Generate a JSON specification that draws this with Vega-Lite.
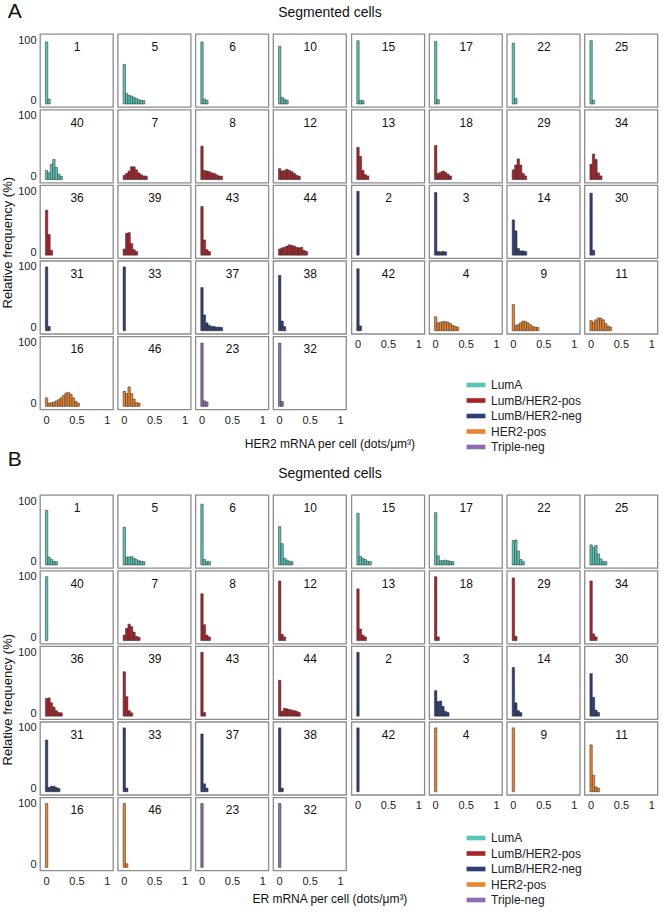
{
"$schema": "https://vega.github.io/schema/vega-lite/v6.json",
"padding": {"left": 1, "top": 1, "right": 4, "bottom": 1},
"background": "white",
"config": {
  "font": "Liberation Sans",
  "view": {"stroke": "#8c8c8c", "strokeWidth": 1.3},
  "axis": {"domain": false, "ticks": false, "grid": false, "labelFont": "Liberation Sans", "labelFontSize": 11, "labelColor": "#222", "labelFlush": false, "labelPadding": 4},
  "title": {"font": "Liberation Sans", "fontWeight": "normal", "color": "#111"},
  "legend": {"labelFont": "Liberation Sans"},
  "header": {"labels": false, "title": null, "labelExpr": "''", "labelFontSize": 1, "labelPadding": 0}
},
"datasets": {
  "meta": [
    {"p":"1","g":"LumA","o":1,"s":"L"},{"p":"5","g":"LumA","o":2,"s":"L"},{"p":"6","g":"LumA","o":3,"s":"L"},{"p":"10","g":"LumA","o":4,"s":"L"},
    {"p":"15","g":"LumA","o":5,"s":"R"},{"p":"17","g":"LumA","o":6,"s":"R"},{"p":"22","g":"LumA","o":7,"s":"R"},{"p":"25","g":"LumA","o":8,"s":"R"},
    {"p":"40","g":"LumA","o":9,"s":"L"},{"p":"7","g":"LumB/HER2-pos","o":10,"s":"L"},{"p":"8","g":"LumB/HER2-pos","o":11,"s":"L"},{"p":"12","g":"LumB/HER2-pos","o":12,"s":"L"},
    {"p":"13","g":"LumB/HER2-pos","o":13,"s":"R"},{"p":"18","g":"LumB/HER2-pos","o":14,"s":"R"},{"p":"29","g":"LumB/HER2-pos","o":15,"s":"R"},{"p":"34","g":"LumB/HER2-pos","o":16,"s":"R"},
    {"p":"36","g":"LumB/HER2-pos","o":17,"s":"L"},{"p":"39","g":"LumB/HER2-pos","o":18,"s":"L"},{"p":"43","g":"LumB/HER2-pos","o":19,"s":"L"},{"p":"44","g":"LumB/HER2-pos","o":20,"s":"L"},
    {"p":"2","g":"LumB/HER2-neg","o":21,"s":"R"},{"p":"3","g":"LumB/HER2-neg","o":22,"s":"R"},{"p":"14","g":"LumB/HER2-neg","o":23,"s":"R"},{"p":"30","g":"LumB/HER2-neg","o":24,"s":"R"},
    {"p":"31","g":"LumB/HER2-neg","o":25,"s":"L"},{"p":"33","g":"LumB/HER2-neg","o":26,"s":"L"},{"p":"37","g":"LumB/HER2-neg","o":27,"s":"L"},{"p":"38","g":"LumB/HER2-neg","o":28,"s":"L"},
    {"p":"42","g":"LumB/HER2-neg","o":29,"s":"R"},{"p":"4","g":"HER2-pos","o":30,"s":"R"},{"p":"9","g":"HER2-pos","o":31,"s":"R"},{"p":"11","g":"HER2-pos","o":32,"s":"R"},
    {"p":"16","g":"HER2-pos","o":33,"s":"L"},{"p":"46","g":"HER2-pos","o":34,"s":"L"},{"p":"23","g":"Triple-neg","o":35,"s":"L"},{"p":"32","g":"Triple-neg","o":36,"s":"L"}
  ],
  "her2": [
    {"p":"1","x":0,"v":97},{"p":"1","x":0.04,"v":3},
    {"p":"5","x":0,"v":60},{"p":"5","x":0.04,"v":12},{"p":"5","x":0.08,"v":9},{"p":"5","x":0.12,"v":8},{"p":"5","x":0.16,"v":6},{"p":"5","x":0.2,"v":4},{"p":"5","x":0.24,"v":2},{"p":"5","x":0.28,"v":1},{"p":"5","x":0.32,"v":0.5},
    {"p":"6","x":0,"v":97},{"p":"6","x":0.04,"v":3},{"p":"6","x":0.08,"v":1},
    {"p":"10","x":0,"v":90},{"p":"10","x":0.04,"v":6},{"p":"10","x":0.08,"v":3},{"p":"10","x":0.12,"v":1},
    {"p":"15","x":0,"v":99},{"p":"15","x":0.04,"v":1},{"p":"15","x":0.08,"v":0.5},
    {"p":"17","x":0,"v":98},{"p":"17","x":0.04,"v":2},
    {"p":"22","x":0,"v":95},{"p":"22","x":0.04,"v":4},
    {"p":"25","x":0,"v":99},{"p":"25","x":0.04,"v":1},
    {"p":"40","x":0,"v":10},{"p":"40","x":0.04,"v":6},{"p":"40","x":0.08,"v":20},{"p":"40","x":0.12,"v":28},{"p":"40","x":0.16,"v":15},{"p":"40","x":0.2,"v":4},{"p":"40","x":0.24,"v":0.5},
    {"p":"7","x":0,"v":2},{"p":"7","x":0.04,"v":5},{"p":"7","x":0.08,"v":9},{"p":"7","x":0.12,"v":16},{"p":"7","x":0.16,"v":16},{"p":"7","x":0.2,"v":11},{"p":"7","x":0.24,"v":6},{"p":"7","x":0.28,"v":3},{"p":"7","x":0.32,"v":1},{"p":"7","x":0.36,"v":0.5},
    {"p":"8","x":0,"v":50},{"p":"8","x":0.04,"v":10},{"p":"8","x":0.08,"v":9},{"p":"8","x":0.12,"v":8},{"p":"8","x":0.16,"v":6},{"p":"8","x":0.2,"v":5},{"p":"8","x":0.24,"v":3},{"p":"8","x":0.28,"v":1},{"p":"8","x":0.32,"v":0.5},
    {"p":"12","x":0,"v":13},{"p":"12","x":0.04,"v":9},{"p":"12","x":0.08,"v":10},{"p":"12","x":0.12,"v":12},{"p":"12","x":0.16,"v":10},{"p":"12","x":0.2,"v":8},{"p":"12","x":0.24,"v":5},{"p":"12","x":0.28,"v":2},{"p":"12","x":0.32,"v":0.5},
    {"p":"13","x":0,"v":48},{"p":"13","x":0.04,"v":33},{"p":"13","x":0.08,"v":10},{"p":"13","x":0.12,"v":3},{"p":"13","x":0.16,"v":1},
    {"p":"18","x":0,"v":51},{"p":"18","x":0.04,"v":5},{"p":"18","x":0.08,"v":7},{"p":"18","x":0.12,"v":9},{"p":"18","x":0.16,"v":7},{"p":"18","x":0.2,"v":4},{"p":"18","x":0.24,"v":1},
    {"p":"29","x":0,"v":11},{"p":"29","x":0.04,"v":19},{"p":"29","x":0.08,"v":29},{"p":"29","x":0.12,"v":19},{"p":"29","x":0.16,"v":5},{"p":"29","x":0.2,"v":1},
    {"p":"34","x":0,"v":20},{"p":"34","x":0.04,"v":37},{"p":"34","x":0.08,"v":28},{"p":"34","x":0.12,"v":6},{"p":"34","x":0.16,"v":1},
    {"p":"36","x":0,"v":69},{"p":"36","x":0.04,"v":29},{"p":"36","x":0.08,"v":3},
    {"p":"39","x":0,"v":5},{"p":"39","x":0.04,"v":31},{"p":"39","x":0.08,"v":32},{"p":"39","x":0.12,"v":14},{"p":"39","x":0.16,"v":4},{"p":"39","x":0.2,"v":1},
    {"p":"43","x":0,"v":75},{"p":"43","x":0.04,"v":20},{"p":"43","x":0.08,"v":4},{"p":"43","x":0.12,"v":1},
    {"p":"44","x":0,"v":5},{"p":"44","x":0.04,"v":7},{"p":"44","x":0.08,"v":8},{"p":"44","x":0.12,"v":10},{"p":"44","x":0.16,"v":12},{"p":"44","x":0.2,"v":11},{"p":"44","x":0.24,"v":10},{"p":"44","x":0.28,"v":8},{"p":"44","x":0.32,"v":7},{"p":"44","x":0.36,"v":8},{"p":"44","x":0.4,"v":3},{"p":"44","x":0.44,"v":1},
    {"p":"2","x":0,"v":100},
    {"p":"3","x":0,"v":98},{"p":"3","x":0.04,"v":1},{"p":"3","x":0.08,"v":0.5},{"p":"3","x":0.12,"v":1},{"p":"3","x":0.16,"v":0.5},
    {"p":"14","x":0,"v":53},{"p":"14","x":0.04,"v":35},{"p":"14","x":0.08,"v":6},{"p":"14","x":0.12,"v":2},{"p":"14","x":0.16,"v":2},{"p":"14","x":0.2,"v":1},
    {"p":"30","x":0,"v":97},{"p":"30","x":0.04,"v":3},
    {"p":"31","x":0,"v":100},{"p":"31","x":0.04,"v":2},
    {"p":"33","x":0,"v":100},
    {"p":"37","x":0,"v":66},{"p":"37","x":0.04,"v":21},{"p":"37","x":0.08,"v":8},{"p":"37","x":0.12,"v":4},{"p":"37","x":0.16,"v":2},{"p":"37","x":0.2,"v":2},{"p":"37","x":0.24,"v":1},{"p":"37","x":0.28,"v":1},{"p":"37","x":0.32,"v":0.5},
    {"p":"38","x":0,"v":86},{"p":"38","x":0.04,"v":11},{"p":"38","x":0.08,"v":2},
    {"p":"42","x":0,"v":97},{"p":"42","x":0.04,"v":3},
    {"p":"4","x":0,"v":18},{"p":"4","x":0.04,"v":8},{"p":"4","x":0.08,"v":9},{"p":"4","x":0.12,"v":10},{"p":"4","x":0.16,"v":10},{"p":"4","x":0.2,"v":9},{"p":"4","x":0.24,"v":7},{"p":"4","x":0.28,"v":4},{"p":"4","x":0.32,"v":2},{"p":"4","x":0.36,"v":1},
    {"p":"9","x":0,"v":38},{"p":"9","x":0.04,"v":4},{"p":"9","x":0.08,"v":5},{"p":"9","x":0.12,"v":8},{"p":"9","x":0.16,"v":11},{"p":"9","x":0.2,"v":10},{"p":"9","x":0.24,"v":8},{"p":"9","x":0.28,"v":5},{"p":"9","x":0.32,"v":2},{"p":"9","x":0.36,"v":1},{"p":"9","x":0.4,"v":0.5},
    {"p":"11","x":0,"v":12},{"p":"11","x":0.04,"v":9},{"p":"11","x":0.08,"v":13},{"p":"11","x":0.12,"v":16},{"p":"11","x":0.16,"v":16},{"p":"11","x":0.2,"v":13},{"p":"11","x":0.24,"v":7},{"p":"11","x":0.28,"v":3},{"p":"11","x":0.32,"v":1},
    {"p":"16","x":0,"v":9},{"p":"16","x":0.04,"v":0.5},{"p":"16","x":0.08,"v":1},{"p":"16","x":0.12,"v":2},{"p":"16","x":0.16,"v":4},{"p":"16","x":0.2,"v":6},{"p":"16","x":0.24,"v":9},{"p":"16","x":0.28,"v":13},{"p":"16","x":0.32,"v":17},{"p":"16","x":0.36,"v":18},{"p":"16","x":0.4,"v":15},{"p":"16","x":0.44,"v":9},{"p":"16","x":0.48,"v":3},{"p":"16","x":0.52,"v":0.5},
    {"p":"46","x":0,"v":20},{"p":"46","x":0.04,"v":16},{"p":"46","x":0.08,"v":27},{"p":"46","x":0.12,"v":16},{"p":"46","x":0.16,"v":7},{"p":"46","x":0.2,"v":1},{"p":"46","x":0.24,"v":0.5},
    {"p":"23","x":0,"v":99},{"p":"23","x":0.04,"v":4},{"p":"23","x":0.08,"v":2},
    {"p":"32","x":0,"v":99},{"p":"32","x":0.04,"v":3}
  ],
  "er": [
    {"p":"1","x":0,"v":85},{"p":"1","x":0.04,"v":8},{"p":"1","x":0.08,"v":4},{"p":"1","x":0.12,"v":1},{"p":"1","x":0.16,"v":0.5},
    {"p":"5","x":0,"v":57},{"p":"5","x":0.04,"v":8},{"p":"5","x":0.08,"v":8},{"p":"5","x":0.12,"v":9},{"p":"5","x":0.16,"v":6},{"p":"5","x":0.2,"v":4},{"p":"5","x":0.24,"v":2},{"p":"5","x":0.28,"v":1},{"p":"5","x":0.32,"v":0.5},
    {"p":"6","x":0,"v":95},{"p":"6","x":0.04,"v":4},{"p":"6","x":0.08,"v":0.5},{"p":"6","x":0.12,"v":0.5},
    {"p":"10","x":0,"v":58},{"p":"10","x":0.04,"v":30},{"p":"10","x":0.08,"v":6},{"p":"10","x":0.12,"v":3},{"p":"10","x":0.16,"v":1},{"p":"10","x":0.2,"v":0.5},
    {"p":"15","x":0,"v":80},{"p":"15","x":0.04,"v":9},{"p":"15","x":0.08,"v":6},{"p":"15","x":0.12,"v":4},{"p":"15","x":0.16,"v":1},{"p":"15","x":0.2,"v":0.5},
    {"p":"17","x":0,"v":81},{"p":"17","x":0.04,"v":10},{"p":"17","x":0.08,"v":2},{"p":"17","x":0.12,"v":2},{"p":"17","x":0.16,"v":3},{"p":"17","x":0.2,"v":2},{"p":"17","x":0.24,"v":1},{"p":"17","x":0.28,"v":0.5},
    {"p":"22","x":0,"v":35},{"p":"22","x":0.04,"v":36},{"p":"22","x":0.08,"v":18},{"p":"22","x":0.12,"v":4},{"p":"22","x":0.16,"v":1},
    {"p":"25","x":0,"v":28},{"p":"25","x":0.04,"v":24},{"p":"25","x":0.08,"v":27},{"p":"25","x":0.12,"v":13},{"p":"25","x":0.16,"v":5},{"p":"25","x":0.2,"v":1},{"p":"25","x":0.24,"v":0.5},
    {"p":"40","x":0,"v":100},
    {"p":"7","x":0,"v":4},{"p":"7","x":0.04,"v":15},{"p":"7","x":0.08,"v":22},{"p":"7","x":0.12,"v":18},{"p":"7","x":0.16,"v":9},{"p":"7","x":0.2,"v":2},{"p":"7","x":0.24,"v":0.5},
    {"p":"8","x":0,"v":72},{"p":"8","x":0.04,"v":21},{"p":"8","x":0.08,"v":4},{"p":"8","x":0.12,"v":1},
    {"p":"12","x":0,"v":93},{"p":"12","x":0.04,"v":5},{"p":"12","x":0.08,"v":1},
    {"p":"13","x":0,"v":80},{"p":"13","x":0.04,"v":14},{"p":"13","x":0.08,"v":4},{"p":"13","x":0.12,"v":1},
    {"p":"18","x":0,"v":100},{"p":"18","x":0.04,"v":1},
    {"p":"29","x":0,"v":98},{"p":"29","x":0.04,"v":2},
    {"p":"34","x":0,"v":93},{"p":"34","x":0.04,"v":6},{"p":"34","x":0.08,"v":1},
    {"p":"36","x":0,"v":24},{"p":"36","x":0.04,"v":25},{"p":"36","x":0.08,"v":17},{"p":"36","x":0.12,"v":10},{"p":"36","x":0.16,"v":4},{"p":"36","x":0.2,"v":1},{"p":"36","x":0.24,"v":0.5},
    {"p":"39","x":0,"v":68},{"p":"39","x":0.04,"v":27},{"p":"39","x":0.08,"v":4},{"p":"39","x":0.12,"v":0.5},
    {"p":"43","x":0,"v":100},{"p":"43","x":0.04,"v":1},
    {"p":"44","x":0,"v":54},{"p":"44","x":0.04,"v":3},{"p":"44","x":0.08,"v":8},{"p":"44","x":0.12,"v":7},{"p":"44","x":0.16,"v":6},{"p":"44","x":0.2,"v":5},{"p":"44","x":0.24,"v":4},{"p":"44","x":0.28,"v":3},{"p":"44","x":0.32,"v":1},
    {"p":"2","x":0,"v":100},
    {"p":"3","x":0,"v":37},{"p":"3","x":0.04,"v":19},{"p":"3","x":0.08,"v":20},{"p":"3","x":0.12,"v":11},{"p":"3","x":0.16,"v":3},{"p":"3","x":0.2,"v":1},
    {"p":"14","x":0,"v":75},{"p":"14","x":0.04,"v":17},{"p":"14","x":0.08,"v":4},{"p":"14","x":0.12,"v":1},
    {"p":"30","x":0,"v":65},{"p":"30","x":0.04,"v":26},{"p":"30","x":0.08,"v":5},{"p":"30","x":0.12,"v":1},
    {"p":"31","x":0,"v":80},{"p":"31","x":0.04,"v":2},{"p":"31","x":0.08,"v":4},{"p":"31","x":0.12,"v":4},{"p":"31","x":0.16,"v":2},{"p":"31","x":0.2,"v":0.5},
    {"p":"33","x":0,"v":100},{"p":"33","x":0.04,"v":1},
    {"p":"37","x":0,"v":90},{"p":"37","x":0.04,"v":8},{"p":"37","x":0.08,"v":1},
    {"p":"38","x":0,"v":100},{"p":"38","x":0.04,"v":1},
    {"p":"42","x":0,"v":100},
    {"p":"4","x":0,"v":100},
    {"p":"9","x":0,"v":100},
    {"p":"11","x":0,"v":72},{"p":"11","x":0.04,"v":22},{"p":"11","x":0.08,"v":3},{"p":"11","x":0.12,"v":1},
    {"p":"16","x":0,"v":100},
    {"p":"46","x":0,"v":100},{"p":"46","x":0.04,"v":1},
    {"p":"23","x":0,"v":100},
    {"p":"32","x":0,"v":100}
  ]
},
"vconcat": [
  {
    "title": {"text": "A", "anchor": "start", "frame": "bounds", "fontSize": 21, "offset": -16, "dx": 6},
    "resolve": {"scale": {"color": "independent"}},
    "vconcat": [{
      "title": {"text": "Segmented cells", "anchor": "middle", "frame": "bounds", "fontSize": 14, "offset": 12},
      "resolve": {"scale": {"color": "independent"}},
      "vconcat": [{
        "title": {"text": "HER2 mRNA per cell (dots/μm³)", "orient": "bottom", "anchor": "middle", "frame": "bounds", "fontSize": 12, "offset": -14},
        "resolve": {"scale": {"color": "independent"}},
        "vconcat": [{
          "title": {"text": "Relative frequency (%)", "orient": "left", "anchor": "middle", "fontSize": 13, "offset": 3},
          "data": {"name": "her2"},
          "transform": [{"lookup": "p", "from": {"data": {"name": "meta"}, "key": "p", "fields": ["g", "o", "s"]}}],
          "spacing": 3.4,
          "hconcat": [
            {
              "transform": [{"filter": {"field": "s", "equal": "L"}}],
              "facet": {"field": "p", "type": "nominal", "sort": {"field": "o", "op": "min"}, "header": {"labels": false, "title": null, "labelExpr": "''", "labelFontSize": 1, "labelPadding": 0}},
              "columns": 4,
              "bounds": "flush",
              "spacing": {"row": 2.6, "column": 4.7},
              "spec": {
                "width": 73, "height": 73,
                "layer": [
                  {
                    "mark": {"type": "bar", "stroke": "#2a2a2a", "strokeWidth": 0.5, "binSpacing": 0},
                    "encoding": {
                      "x": {"field": "x", "type": "quantitative", "bin": {"step": 0.04, "extent": [-0.02, 1.02], "nice": false}, "scale": {"domain": [-0.05, 1.05]}, "axis": {"title": null, "values": [0, 0.5, 1], "format": "~g"}},
                      "y": {"field": "v", "type": "quantitative", "scale": {"domain": [-5, 103]}, "axis": {"title": null, "values": [0, 50, 100]}},
                      "y2": {"datum": -5},
                      "color": {"field": "g", "type": "nominal",
                        "scale": {"domain": ["LumA", "LumB/HER2-pos", "LumB/HER2-neg", "HER2-pos", "Triple-neg"], "range": ["#5bc4b8", "#a8242b", "#2f3e74", "#e8852e", "#8e6db2"]},
                        "legend": {"orient": "none", "legendX": 429, "legendY": 344, "title": null, "symbolType": "M-1.35,-0.33H1.35V0.33H-1.35Z", "symbolSize": 196, "symbolStrokeWidth": 0, "labelFontSize": 12, "labelColor": "#222", "labelOffset": 8, "rowPadding": 2.5}}
                    }
                  },
                  {
                    "transform": [{"aggregate": [{"op": "count", "as": "n"}], "groupby": ["p"]}],
                    "mark": {"type": "text", "fontSize": 12, "baseline": "top", "color": "#111"},
                    "encoding": {"x": {"datum": 0.51, "type": "quantitative"}, "y": {"datum": 97, "type": "quantitative"}, "text": {"field": "p"}}
                  }
                ]
              }
            },
            {
              "transform": [{"filter": {"field": "s", "equal": "R"}}],
              "facet": {"field": "p", "type": "nominal", "sort": {"field": "o", "op": "min"}, "header": {"labels": false, "title": null, "labelExpr": "''", "labelFontSize": 1, "labelPadding": 0}},
              "columns": 4,
              "bounds": "flush",
              "spacing": {"row": 2.6, "column": 4.7},
              "spec": {
                "width": 73, "height": 73,
                "layer": [
                  {
                    "mark": {"type": "bar", "stroke": "#2a2a2a", "strokeWidth": 0.5, "binSpacing": 0},
                    "encoding": {
                      "x": {"field": "x", "type": "quantitative", "bin": {"step": 0.04, "extent": [-0.02, 1.02], "nice": false}, "scale": {"domain": [-0.05, 1.05]}, "axis": {"title": null, "values": [0, 0.5, 1], "format": "~g"}},
                      "y": {"field": "v", "type": "quantitative", "scale": {"domain": [-5, 103]}, "axis": null},
                      "y2": {"datum": -5},
                      "color": {"field": "g", "type": "nominal",
                        "scale": {"domain": ["LumA", "LumB/HER2-pos", "LumB/HER2-neg", "HER2-pos", "Triple-neg"], "range": ["#5bc4b8", "#a8242b", "#2f3e74", "#e8852e", "#8e6db2"]},
                        "legend": {"orient": "none", "legendX": 429, "legendY": 344, "title": null, "symbolType": "M-1.35,-0.33H1.35V0.33H-1.35Z", "symbolSize": 196, "symbolStrokeWidth": 0, "labelFontSize": 12, "labelColor": "#222", "labelOffset": 8, "rowPadding": 2.5}}
                    }
                  },
                  {
                    "transform": [{"aggregate": [{"op": "count", "as": "n"}], "groupby": ["p"]}],
                    "mark": {"type": "text", "fontSize": 12, "baseline": "top", "color": "#111"},
                    "encoding": {"x": {"datum": 0.51, "type": "quantitative"}, "y": {"datum": 97, "type": "quantitative"}, "text": {"field": "p"}}
                  }
                ]
              }
            }
          ]
        }]
      }]
    }]
  },
  {
    "title": {"text": "B", "anchor": "start", "frame": "bounds", "fontSize": 21, "offset": -3, "dx": 6},
    "resolve": {"scale": {"color": "independent"}},
    "vconcat": [{
      "title": {"text": "Segmented cells", "anchor": "middle", "frame": "bounds", "fontSize": 14, "offset": 12},
      "resolve": {"scale": {"color": "independent"}},
      "vconcat": [{
        "title": {"text": "ER mRNA per cell (dots/μm³)", "orient": "bottom", "anchor": "middle", "frame": "bounds", "fontSize": 12, "offset": -12},
        "resolve": {"scale": {"color": "independent"}},
        "vconcat": [{
          "title": {"text": "Relative frequency (%)", "orient": "left", "anchor": "middle", "fontSize": 13, "offset": 3},
          "data": {"name": "er"},
          "transform": [{"lookup": "p", "from": {"data": {"name": "meta"}, "key": "p", "fields": ["g", "o", "s"]}}],
          "spacing": 3.4,
          "hconcat": [
            {
              "transform": [{"filter": {"field": "s", "equal": "L"}}],
              "facet": {"field": "p", "type": "nominal", "sort": {"field": "o", "op": "min"}, "header": {"labels": false, "title": null, "labelExpr": "''", "labelFontSize": 1, "labelPadding": 0}},
              "columns": 4,
              "bounds": "flush",
              "spacing": {"row": 2.6, "column": 4.7},
              "spec": {
                "width": 73, "height": 73,
                "layer": [
                  {
                    "mark": {"type": "bar", "stroke": "#2a2a2a", "strokeWidth": 0.5, "binSpacing": 0},
                    "encoding": {
                      "x": {"field": "x", "type": "quantitative", "bin": {"step": 0.04, "extent": [-0.02, 1.02], "nice": false}, "scale": {"domain": [-0.05, 1.05]}, "axis": {"title": null, "values": [0, 0.5, 1], "format": "~g"}},
                      "y": {"field": "v", "type": "quantitative", "scale": {"domain": [-5, 103]}, "axis": {"title": null, "values": [0, 50, 100]}},
                      "y2": {"datum": -5},
                      "color": {"field": "g", "type": "nominal",
                        "scale": {"domain": ["LumA", "LumB/HER2-pos", "LumB/HER2-neg", "HER2-pos", "Triple-neg"], "range": ["#5bc4b8", "#a8242b", "#2f3e74", "#e8852e", "#8e6db2"]},
                        "legend": {"orient": "none", "legendX": 429, "legendY": 336, "title": null, "symbolType": "M-1.35,-0.33H1.35V0.33H-1.35Z", "symbolSize": 196, "symbolStrokeWidth": 0, "labelFontSize": 12, "labelColor": "#222", "labelOffset": 8, "rowPadding": 2.5}}
                    }
                  },
                  {
                    "transform": [{"aggregate": [{"op": "count", "as": "n"}], "groupby": ["p"]}],
                    "mark": {"type": "text", "fontSize": 12, "baseline": "top", "color": "#111"},
                    "encoding": {"x": {"datum": 0.51, "type": "quantitative"}, "y": {"datum": 97, "type": "quantitative"}, "text": {"field": "p"}}
                  }
                ]
              }
            },
            {
              "transform": [{"filter": {"field": "s", "equal": "R"}}],
              "facet": {"field": "p", "type": "nominal", "sort": {"field": "o", "op": "min"}, "header": {"labels": false, "title": null, "labelExpr": "''", "labelFontSize": 1, "labelPadding": 0}},
              "columns": 4,
              "bounds": "flush",
              "spacing": {"row": 2.6, "column": 4.7},
              "spec": {
                "width": 73, "height": 73,
                "layer": [
                  {
                    "mark": {"type": "bar", "stroke": "#2a2a2a", "strokeWidth": 0.5, "binSpacing": 0},
                    "encoding": {
                      "x": {"field": "x", "type": "quantitative", "bin": {"step": 0.04, "extent": [-0.02, 1.02], "nice": false}, "scale": {"domain": [-0.05, 1.05]}, "axis": {"title": null, "values": [0, 0.5, 1], "format": "~g"}},
                      "y": {"field": "v", "type": "quantitative", "scale": {"domain": [-5, 103]}, "axis": null},
                      "y2": {"datum": -5},
                      "color": {"field": "g", "type": "nominal",
                        "scale": {"domain": ["LumA", "LumB/HER2-pos", "LumB/HER2-neg", "HER2-pos", "Triple-neg"], "range": ["#5bc4b8", "#a8242b", "#2f3e74", "#e8852e", "#8e6db2"]},
                        "legend": {"orient": "none", "legendX": 429, "legendY": 336, "title": null, "symbolType": "M-1.35,-0.33H1.35V0.33H-1.35Z", "symbolSize": 196, "symbolStrokeWidth": 0, "labelFontSize": 12, "labelColor": "#222", "labelOffset": 8, "rowPadding": 2.5}}
                    }
                  },
                  {
                    "transform": [{"aggregate": [{"op": "count", "as": "n"}], "groupby": ["p"]}],
                    "mark": {"type": "text", "fontSize": 12, "baseline": "top", "color": "#111"},
                    "encoding": {"x": {"datum": 0.51, "type": "quantitative"}, "y": {"datum": 97, "type": "quantitative"}, "text": {"field": "p"}}
                  }
                ]
              }
            }
          ]
        }]
      }]
    }]
  }
],
"spacing": -4,
"resolve": {"scale": {"color": "independent"}}
}
